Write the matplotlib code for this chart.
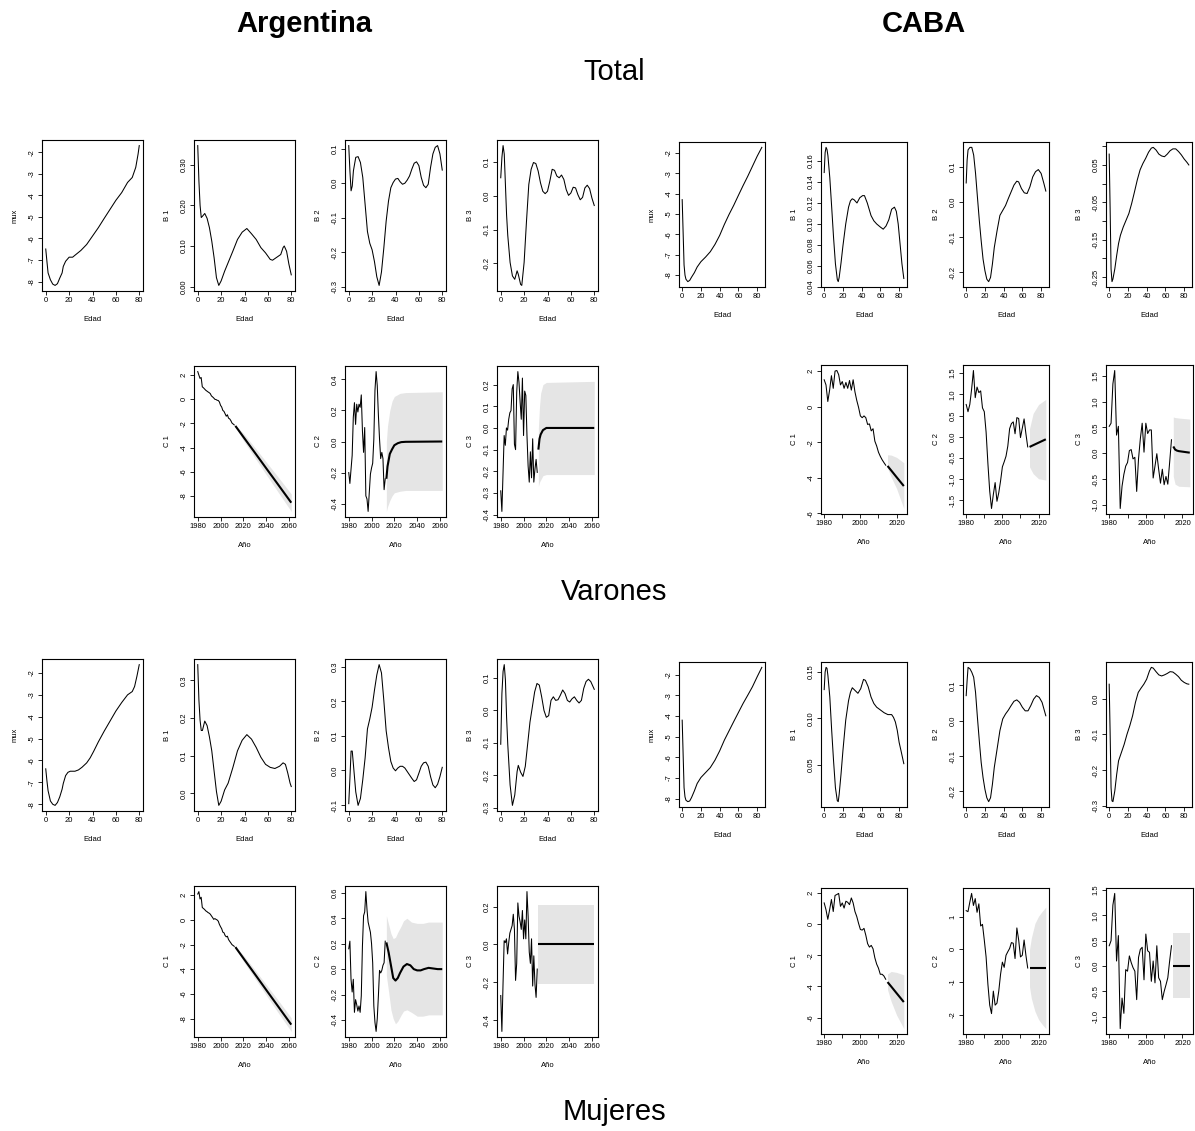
import matplotlib
matplotlib.use("Agg")
import matplotlib.pyplot as plt

plt.rcParams['font.family'] = ['Liberation Sans', 'DejaVu Sans']
plt.rcParams['axes.unicode_minus'] = False

# ------------------------------------------------------------------
# Argentina, total: age components
# ------------------------------------------------------------------
arg_tot_mx_age = [0, 1, 2, 4, 6, 8, 10, 12, 14, 15, 17, 20, 23, 25, 30, 35, 40, 45, 50, 55, 60, 65, 70, 74, 77, 79, 80]
arg_tot_mx = [-6.49, -7.06, -7.6, -7.92, -8.12, -8.18, -8.1, -7.84, -7.6, -7.3, -7.06, -6.87, -6.87, -6.78, -6.56,
              -6.28, -5.89, -5.5, -5.07, -4.65, -4.23, -3.87, -3.4, -3.17, -2.7, -2.08, -1.69]

arg_tot_b1_age = [0, 1, 2, 3, 4, 6, 8, 10, 12, 14, 16, 18, 20, 23, 26, 30, 34, 38, 42, 46, 50, 54, 58, 62, 64, 68,
                  71, 73, 74, 76, 78, 80]
arg_tot_b1 = [0.347, 0.26, 0.20, 0.17, 0.173, 0.18, 0.168, 0.145, 0.112, 0.071, 0.022, 0.003, 0.014, 0.038, 0.059,
              0.087, 0.116, 0.134, 0.143, 0.13, 0.116, 0.096, 0.083, 0.067, 0.065, 0.073, 0.079, 0.096, 0.10, 0.087,
              0.055, 0.029]

arg_tot_b2_age = [0, 1, 2, 3, 4] + list(range(6, 81, 2))
arg_tot_b2 = [0.109, 0.036, -0.022, -0.008, 0.036, 0.075, 0.077, 0.06, 0.017, -0.061, -0.14, -0.174, -0.193,
              -0.227, -0.271, -0.296, -0.257, -0.188, -0.11, -0.052, -0.013, 0.002, 0.012, 0.014, 0.004, -0.003,
              0.0, 0.009, 0.021, 0.041, 0.058, 0.062, 0.051, 0.017, -0.006, -0.013, -0.003, 0.046, 0.085, 0.104,
              0.109, 0.085, 0.038]

arg_tot_b3_age = [0, 1, 2, 3, 4, 5, 6, 8, 10, 12, 14, 15, 17, 18] + list(range(20, 81, 2))
arg_tot_b3 = [0.053, 0.113, 0.148, 0.123, 0.033, -0.057, -0.117, -0.197, -0.237, -0.247, -0.222, -0.232, -0.262,
              -0.265, -0.197, -0.077, 0.033, 0.078, 0.098, 0.095, 0.073, 0.038, 0.013, 0.006, 0.013, 0.043, 0.078,
              0.075, 0.058, 0.053, 0.061, 0.048, 0.018, 0.001, 0.008, 0.025, 0.023, 0.003, -0.012, -0.005, 0.023,
              0.031, 0.021, -0.007, -0.029]

# Argentina, total: time components (observed 1980-2012, forecast to 2062)
arg_years = list(range(1980, 2013))
arg_tot_c1 = [2.29, 2.0, 1.73, 1.8, 1.03, 0.95, 0.85, 0.75, 0.68, 0.61, 0.55, 0.47, 0.28, 0.2, 0.11, 0.0, -0.02,
              -0.08, -0.1, -0.22, -0.5, -0.64, -0.92, -1.0, -1.2, -1.4, -1.28, -1.56, -1.62, -1.76, -1.96, -2.04,
              -2.12]
arg_tot_c1_fyears = [2013, 2020, 2030, 2040, 2050, 2062]
arg_tot_c1_fmean = [-2.2, -3.11, -4.40, -5.70, -6.99, -8.55]
arg_tot_c1_lo = [-2.25, -3.41, -4.82, -6.22, -7.61, -9.27]
arg_tot_c1_hi = [-2.15, -2.81, -3.98, -5.18, -6.37, -7.83]

arg_tot_c2 = [-0.2, -0.27, -0.18, -0.09, 0.156, 0.25, 0.11, 0.24, 0.19, 0.24, 0.22, 0.30, 0.07, -0.07, 0.09,
              -0.35, -0.37, -0.45, -0.33, -0.21, -0.17, -0.14, 0.015, 0.33, 0.45, 0.36, 0.17, 0.015, -0.11, -0.07,
              -0.11, -0.31, -0.24]
arg_tot_c2_fyears = [2013, 2014, 2016, 2018, 2020, 2023, 2026, 2030, 2062]
arg_tot_c2_fmean = [-0.24, -0.16, -0.08, -0.05, -0.024, -0.011, -0.004, -0.002, 0.0]
arg_tot_c2_byears = [2013, 2014, 2016, 2018, 2020, 2025, 2030, 2062]
arg_tot_c2_lo = [-0.45, -0.42, -0.38, -0.35, -0.33, -0.32, -0.315, -0.315]
arg_tot_c2_hi = [0.0, 0.10, 0.20, 0.26, 0.29, 0.31, 0.315, 0.32]

arg_tot_c3 = [-0.29, -0.385, -0.21, -0.035, -0.08, 0.0, -0.01, 0.04, 0.07, 0.08, 0.18, 0.2, -0.075, -0.1, 0.165,
              0.26, 0.21, 0.12, 0.04, 0.23, -0.035, 0.17, 0.15, -0.035, -0.175, -0.25, -0.11, -0.23, -0.05, -0.25,
              -0.19, -0.145, -0.205]
arg_tot_c3_fyears = [2013, 2014, 2015, 2017, 2020, 2062]
arg_tot_c3_fmean = [-0.1, -0.05, -0.03, -0.01, 0.0, 0.0]
arg_tot_c3_lo = [-0.27, -0.25, -0.24, -0.22, -0.215, -0.215]
arg_tot_c3_hi = [0.0, 0.10, 0.16, 0.20, 0.21, 0.215]

# ------------------------------------------------------------------
# CABA, total
# ------------------------------------------------------------------
caba_tot_mx_age = [0, 1, 2, 3, 4, 6, 8, 10, 13, 16, 20, 25, 30, 35, 40, 45, 50, 55, 60, 65, 70, 75, 80, 85]
caba_tot_mx = [-4.29, -5.9, -7.5, -8.0, -8.2, -8.32, -8.26, -8.1, -7.88, -7.6, -7.34, -7.11, -6.85, -6.49, -6.05,
               -5.51, -5.02, -4.57, -4.08, -3.6, -3.14, -2.65, -2.16, -1.72]

caba_tot_b1_age = [0, 1, 2, 3, 4, 6, 8, 10, 12, 14, 15, 16, 18, 20, 23, 26, 28, 30, 32, 35, 38, 41, 43, 46, 50, 53,
                   56, 60, 63, 66, 69, 72, 75, 77, 79, 81, 83, 85]
caba_tot_b1 = [0.149, 0.168, 0.173, 0.171, 0.165, 0.144, 0.116, 0.087, 0.062, 0.047, 0.045, 0.049, 0.063, 0.079,
               0.1, 0.116, 0.122, 0.124, 0.123, 0.12, 0.125, 0.127, 0.127, 0.12, 0.108, 0.103, 0.1, 0.097, 0.095,
               0.098, 0.104, 0.114, 0.116, 0.112, 0.1, 0.081, 0.062, 0.048]

caba_tot_b2_age = [0, 1, 2, 4, 6, 8, 10, 12, 14, 16, 18, 20, 22, 24, 26, 28, 30, 33, 36, 39, 42, 45, 48, 51, 54, 56,
                   59, 62, 65, 68, 71, 74, 77, 80, 83, 85]
caba_tot_b2 = [0.054, 0.119, 0.148, 0.155, 0.155, 0.133, 0.081, 0.014, -0.052, -0.11, -0.162, -0.195, -0.219,
               -0.226, -0.214, -0.176, -0.129, -0.081, -0.038, -0.024, -0.01, 0.01, 0.029, 0.048, 0.059, 0.057,
               0.038, 0.026, 0.024, 0.043, 0.071, 0.086, 0.092, 0.081, 0.052, 0.031]

caba_tot_b3_age = [0, 1, 2, 3, 4, 6, 8, 10, 12, 15, 18, 21, 24, 27, 30, 33, 36, 39, 42, 45, 47, 50, 53, 56, 59, 62,
                   65, 68, 71, 74, 77, 80, 83, 85]
caba_tot_b3 = [0.079, -0.066, -0.228, -0.262, -0.255, -0.228, -0.192, -0.16, -0.138, -0.116, -0.098, -0.08,
               -0.053, -0.022, 0.01, 0.037, 0.054, 0.068, 0.084, 0.095, 0.097, 0.09, 0.079, 0.074, 0.072, 0.079,
               0.088, 0.093, 0.093, 0.086, 0.077, 0.066, 0.057, 0.05]

# CABA, total: time components (observed 1980-2014, forecast to 2024)
caba_years = list(range(1980, 2015))
caba_tot_c1 = [1.51, 1.22, 0.29, 0.93, 1.74, 1.03, 2.0, 2.03, 1.8, 1.22, 1.41, 1.03, 1.36, 1.03, 1.47, 0.93, 1.51,
               0.83, 0.35, -0.04, -0.52, -0.62, -0.52, -0.62, -1.0, -0.97, -1.36, -1.24, -1.94, -2.21, -2.56, -2.79,
               -2.98, -3.14, -3.29]
caba_tot_c1_fyears = [2015, 2017, 2020, 2024]
caba_tot_c1_fmean = [-3.33, -3.58, -3.96, -4.46]
caba_tot_c1_lo = [-3.45, -3.95, -4.6, -5.72]
caba_tot_c1_hi = [-2.7, -2.72, -2.85, -3.15]

caba_tot_c2 = [0.76, 0.59, 0.76, 1.12, 1.56, 0.92, 1.17, 1.04, 1.08, 0.68, 0.59, 0.11, -0.63, -1.28, -1.69, -1.36,
               -1.08, -1.52, -1.32, -1.04, -0.71, -0.59, -0.46, -0.22, 0.19, 0.31, 0.35, 0.07, 0.45, 0.43, -0.02,
               0.2, 0.42, 0.07, -0.24]
caba_tot_c2_fyears = [2015, 2018, 2021, 2024]
caba_tot_c2_fmean = [-0.24, -0.18, -0.12, -0.06]
caba_tot_c2_byears = [2015, 2017, 2020, 2024]
caba_tot_c2_lo = [-0.71, -0.87, -0.99, -1.02]
caba_tot_c2_hi = [0.19, 0.55, 0.76, 0.88]

caba_tot_c3 = [0.52, 0.58, 1.34, 1.6, 0.35, 0.52, -1.07, -0.64, -0.41, -0.25, -0.18, 0.05, 0.07, -0.11, -0.08,
               -0.74, -0.11, 0.28, 0.58, 0.02, 0.58, 0.38, 0.45, 0.45, -0.48, -0.25, -0.01, -0.31, -0.58, -0.31,
               -0.61, -0.45, -0.6, -0.18, 0.26]
caba_tot_c3_fyears = [2015, 2016, 2017, 2018, 2020, 2022, 2024]
caba_tot_c3_fmean = [0.13, 0.07, 0.05, 0.04, 0.03, 0.02, 0.01]
caba_tot_c3_byears = [2015, 2016, 2018, 2024]
caba_tot_c3_lo = [-0.45, -0.6, -0.64, -0.65]
caba_tot_c3_hi = [0.7, 0.69, 0.68, 0.66]

# ------------------------------------------------------------------
# Argentina, varones
# ------------------------------------------------------------------
arg_var_mx_age = [0, 1, 2, 4, 6, 8, 10, 12, 14, 15, 17, 19, 21, 25, 28, 31, 35, 38, 41, 45, 50, 55, 60, 65, 70, 74,
                  76, 78, 80]
arg_var_mx = [-6.38, -6.92, -7.38, -7.85, -8.0, -8.05, -7.92, -7.66, -7.31, -7.05, -6.69, -6.54, -6.49, -6.49,
              -6.43, -6.31, -6.11, -5.88, -5.58, -5.15, -4.66, -4.2, -3.74, -3.35, -3.0, -2.85, -2.62, -2.15, -1.62]

arg_var_b1_age = [0, 1, 2, 3, 4, 6, 8, 10, 12, 14, 16, 18, 20, 23, 26, 30, 34, 38, 42, 46, 50, 54, 58, 62, 66, 70,
                  73, 75, 77, 79, 80]
arg_var_b1 = [0.342, 0.248, 0.194, 0.167, 0.167, 0.192, 0.18, 0.15, 0.113, 0.059, 0.005, -0.032, -0.021, 0.009,
              0.027, 0.068, 0.113, 0.141, 0.156, 0.144, 0.122, 0.096, 0.077, 0.069, 0.066, 0.072, 0.081, 0.077,
              0.054, 0.027, 0.018]

arg_var_b2_age = [0, 1, 2, 3, 4] + list(range(6, 81, 2))
arg_var_b2 = [-0.096, -0.023, 0.056, 0.056, 0.017, -0.062, -0.101, -0.081, -0.027, 0.036, 0.12, 0.149, 0.183,
              0.232, 0.276, 0.306, 0.282, 0.203, 0.115, 0.066, 0.026, 0.007, -0.001, 0.007, 0.012, 0.012, 0.007,
              -0.003, -0.013, -0.023, -0.032, -0.027, -0.008, 0.012, 0.022, 0.024, 0.012, -0.018, -0.042, -0.05,
              -0.04, -0.018, 0.009]

arg_var_b3_age = [0, 1, 2, 3, 4, 5, 6, 8, 10, 12, 14, 15] + list(range(17, 80, 2)) + [80]
arg_var_b3 = [-0.104, 0.052, 0.12, 0.141, 0.094, -0.021, -0.104, -0.229, -0.292, -0.26, -0.188, -0.169, -0.19,
              -0.203, -0.172, -0.104, -0.036, 0.01, 0.057, 0.083, 0.078, 0.042, 0.0, -0.021, -0.016, 0.031, 0.042,
              0.031, 0.033, 0.047, 0.063, 0.052, 0.031, 0.026, 0.036, 0.042, 0.031, 0.023, 0.031, 0.068, 0.089,
              0.096, 0.089, 0.073, 0.065]

arg_var_c1 = [2.1, 2.3, 1.7, 1.84, 1.01, 0.93, 0.85, 0.74, 0.68, 0.6, 0.55, 0.47, 0.33, 0.2, 0.05, 0.11, 0.05, 0.0,
              -0.1, -0.36, -0.55, -0.71, -0.99, -1.04, -1.26, -1.37, -1.32, -1.59, -1.73, -1.86, -2.0, -2.07, -2.14]
arg_var_c1_fyears = [2013, 2020, 2030, 2040, 2050, 2062]
arg_var_c1_fmean = [-2.2, -3.1, -4.38, -5.67, -6.95, -8.49]
arg_var_c1_lo = [-2.25, -3.35, -4.73, -6.09, -7.45, -9.04]
arg_var_c1_hi = [-2.15, -2.85, -4.03, -5.25, -6.45, -7.94]

arg_var_c2 = [0.16, 0.22, -0.08, -0.18, -0.08, -0.34, -0.24, -0.28, -0.33, -0.29, -0.34, -0.21, 0.18, 0.42, 0.45,
              0.61, 0.47, 0.37, 0.33, 0.29, 0.2, 0.05, -0.29, -0.42, -0.49, -0.39, -0.21, -0.01, -0.03, -0.01, 0.03,
              0.05, 0.22]
arg_var_c2_fyears = [2013, 2015, 2017, 2019, 2021, 2023, 2025, 2028, 2031, 2034, 2037, 2040, 2043, 2046, 2050, 2054,
                     2058, 2062]
arg_var_c2_fmean = [0.21, 0.13, 0.03, -0.07, -0.09, -0.07, -0.03, 0.02, 0.04, 0.03, 0.0, -0.01, -0.01, 0.0, 0.01,
                    0.005, 0.0, 0.0]
arg_var_c2_byears = [2013, 2015, 2017, 2019, 2021, 2023, 2026, 2028, 2031, 2035, 2040, 2045, 2050, 2062]
arg_var_c2_lo = [-0.05, -0.18, -0.32, -0.39, -0.43, -0.41, -0.36, -0.33, -0.32, -0.34, -0.37, -0.37, -0.36, -0.36]
arg_var_c2_hi = [0.42, 0.35, 0.28, 0.24, 0.25, 0.29, 0.34, 0.38, 0.40, 0.37, 0.36, 0.36, 0.37, 0.37]

arg_var_c3 = [-0.27, -0.46, -0.21, 0.02, 0.01, 0.03, -0.05, 0.01, 0.06, 0.08, 0.1, 0.16, 0.08, -0.19, -0.1, 0.22,
              0.15, 0.12, 0.08, 0.18, 0.03, 0.13, 0.03, 0.28, 0.15, -0.04, -0.1, 0.03, -0.22, -0.06, -0.21, -0.28,
              -0.13]
arg_var_c3_fyears = [2013, 2062]
arg_var_c3_fmean = [0.0, 0.0]
arg_var_c3_lo = [-0.21, -0.21]
arg_var_c3_hi = [0.21, 0.21]

# ------------------------------------------------------------------
# CABA, varones
# ------------------------------------------------------------------
caba_var_mx_age = [0, 1, 2, 3, 4, 6, 8, 10, 13, 16, 20, 25, 30, 35, 40, 45, 50, 55, 60, 65, 70, 75, 80, 85]
caba_var_mx = [-4.2, -5.85, -7.47, -7.92, -8.08, -8.15, -8.12, -7.95, -7.63, -7.27, -6.98, -6.74, -6.5, -6.14,
               -5.69, -5.17, -4.72, -4.27, -3.83, -3.39, -2.99, -2.58, -2.1, -1.64]

caba_var_b1_age = [0, 1, 2, 3, 4, 6, 8, 10, 12, 14, 15, 16, 18, 20, 23, 26, 28, 30, 33, 36, 39, 42, 44, 47, 50, 53,
                   56, 60, 64, 68, 72, 74, 76, 78, 80, 82, 85]
caba_var_b1 = [0.131, 0.15, 0.155, 0.154, 0.146, 0.123, 0.087, 0.054, 0.025, 0.011, 0.01, 0.018, 0.04, 0.065,
               0.098, 0.119, 0.128, 0.133, 0.13, 0.127, 0.132, 0.142, 0.141, 0.134, 0.123, 0.116, 0.112, 0.109,
               0.106, 0.104, 0.104, 0.101, 0.096, 0.087, 0.074, 0.065, 0.051]

caba_var_b2_age = [0, 1, 2, 4, 6, 8, 10, 12, 14, 16, 18, 20, 22, 24, 26, 28, 30, 33, 36, 39, 42, 45, 48, 51, 54, 57,
                   60, 63, 66, 69, 72, 75, 78, 81, 83, 85]
caba_var_b2 = [0.071, 0.114, 0.151, 0.147, 0.137, 0.123, 0.08, 0.009, -0.057, -0.118, -0.161, -0.194, -0.218,
               -0.229, -0.218, -0.18, -0.132, -0.08, -0.028, 0.005, 0.019, 0.03, 0.043, 0.055, 0.059, 0.052, 0.038,
               0.028, 0.028, 0.043, 0.061, 0.071, 0.066, 0.052, 0.033, 0.014]

caba_var_b3_age = [0, 1, 2, 3, 4, 6, 8, 10, 13, 16, 19, 22, 25, 28, 31, 34, 37, 40, 43, 45, 47, 50, 53, 56, 59, 62,
                   65, 68, 71, 74, 77, 80, 83, 85]
caba_var_b3 = [0.04, -0.095, -0.249, -0.286, -0.288, -0.258, -0.212, -0.174, -0.151, -0.128, -0.1, -0.076, -0.048,
               -0.011, 0.017, 0.029, 0.04, 0.054, 0.077, 0.087, 0.085, 0.075, 0.066, 0.063, 0.066, 0.07, 0.075,
               0.074, 0.068, 0.061, 0.051, 0.045, 0.041, 0.04]

caba_var_c1 = [1.35, 0.91, 0.3, 0.91, 1.57, 0.8, 1.83, 1.89, 1.96, 1.13, 1.35, 1.02, 1.46, 1.39, 1.24, 1.67, 1.35,
               0.8, 0.48, 0.04, -0.35, -0.39, -0.28, -0.72, -1.26, -1.48, -1.37, -1.59, -2.17, -2.57, -2.83, -3.22,
               -3.22, -3.33, -3.54]
caba_var_c1_fyears = [2015, 2017, 2020, 2024]
caba_var_c1_fmean = [-3.72, -4.0, -4.43, -5.0]
caba_var_c1_lo = [-4.2, -4.96, -5.83, -6.7]
caba_var_c1_hi = [-3.2, -3.04, -3.1, -3.26]

caba_var_c2 = [1.19, 1.16, 1.45, 1.72, 1.35, 1.56, 1.14, 1.4, 0.72, 0.77, 0.29, -0.23, -1.07, -1.71, -1.97, -1.28,
               -1.71, -1.65, -1.28, -0.76, -0.39, -0.55, -0.18, -0.07, 0.03, 0.21, 0.19, -0.28, 0.66, 0.29, -0.23,
               -0.18, 0.29, -0.18, -0.57]
caba_var_c2_fyears = [2015, 2024]
caba_var_c2_fmean = [-0.57, -0.57]
caba_var_c2_byears = [2015, 2016, 2018, 2020, 2022, 2024]
caba_var_c2_lo = [-1.15, -1.5, -1.9, -2.15, -2.3, -2.43]
caba_var_c2_hi = [0.0, 0.35, 0.8, 1.02, 1.17, 1.3]

caba_var_c3 = [0.4, 0.5, 1.2, 1.43, 0.1, 0.6, -1.23, -0.63, -0.93, -0.07, -0.1, 0.2, 0.07, -0.03, -0.1, -0.66,
               0.17, 0.33, 0.37, -0.27, 0.63, 0.3, 0.27, -0.3, 0.1, -0.33, 0.4, -0.23, -0.3, -0.66, -0.5, -0.37,
               -0.23, 0.1, 0.4]
caba_var_c3_fyears = [2015, 2024]
caba_var_c3_fmean = [0.0, 0.0]
caba_var_c3_lo = [-0.63, -0.63]
caba_var_c3_hi = [0.65, 0.65]

# ------------------------------------------------------------------
# Figure
# ------------------------------------------------------------------
W, H = 1195, 1131
fig = plt.figure(figsize=(W / 100, H / 100), dpi=100)
fig.patch.set_facecolor('white')

TICK_FS = 5.5
LABEL_FS = 5.5
LINE_W = 0.75
FC_W = 1.5
BAND = '#e5e5e5'

ARG_COLS = [42, 194, 345, 497]
ARG_W = 101
CABA_COLS = [679, 821, 963, 1106]
CABA_W = 86


def new_axes(left, top, width, height):
    ax = fig.add_axes([left / W, 1 - (top + height) / H, width / W, height / H])
    for s in ax.spines.values():
        s.set_linewidth(0.8)
    ax.tick_params(direction='out', length=3, width=0.6, labelsize=TICK_FS, pad=1.5)
    ax.tick_params(axis='y', labelrotation=90)
    return ax


def finish(ax, width, height, xticks, xlabels, yticks, ylabels, xlabel, ylabel):
    ax.margins(0.04)
    ax.autoscale_view()
    xl, yl = ax.get_xlim(), ax.get_ylim()
    ax.set_xticks(xticks, xlabels)
    ax.set_yticks(yticks, ylabels)
    for lab in ax.get_yticklabels():
        lab.set_va('center')
    ax.set_xlim(xl)
    ax.set_ylim(yl)
    ax.set_xlabel(xlabel, fontsize=LABEL_FS)
    ax.set_ylabel(ylabel, fontsize=LABEL_FS)
    ax.xaxis.set_label_coords(0.5, -25 / height)
    ax.yaxis.set_label_coords(-23 / width, 0.5)


def fmt(vals, spec):
    return [spec.format(v) for v in vals]


def age_panel(left, top, width, height, ages, vals, ylabel, yticks, ylabels):
    ax = new_axes(left, top, width, height)
    ax.plot(ages, vals, color='black', lw=LINE_W)
    finish(ax, width, height, [0, 20, 40, 60, 80], ['0', '20', '40', '60', '80'],
           yticks, ylabels, 'Edad', ylabel)
    return ax


def time_panel(left, top, width, height, years, obs, fyears, fmean, byears, lo, hi,
               ylabel, yticks, ylabels, xticks, xlabels):
    ax = new_axes(left, top, width, height)
    ax.plot(years, obs, color='black', lw=LINE_W)
    ax.fill_between(byears, lo, hi, color=BAND, lw=0)
    ax.plot(fyears, fmean, color='black', lw=FC_W, solid_capstyle='butt')
    finish(ax, width, height, xticks, xlabels, yticks, ylabels, 'Año', ylabel)
    return ax


ARG_XT = [1980, 2000, 2020, 2040, 2060]
ARG_XL = [str(v) for v in ARG_XT]
CABA_XT = [1980, 1990, 2000, 2010, 2020]
CABA_XL = ['1980', '', '2000', '', '2020']

# ---------------- Argentina, total ----------------
r1_top, r1_h = 140, 151
r2_top, r2_h = 366, 151
age_panel(ARG_COLS[0], r1_top, ARG_W, r1_h, arg_tot_mx_age, arg_tot_mx, 'mux',
          [-8, -7, -6, -5, -4, -3, -2], fmt([-8, -7, -6, -5, -4, -3, -2], '{:d}'))
age_panel(ARG_COLS[1], r1_top, ARG_W, r1_h, arg_tot_b1_age, arg_tot_b1, 'B 1',
          [0.0, 0.1, 0.2, 0.3], fmt([0.0, 0.1, 0.2, 0.3], '{:.2f}'))
age_panel(ARG_COLS[2], r1_top, ARG_W, r1_h, arg_tot_b2_age, arg_tot_b2, 'B 2',
          [-0.3, -0.2, -0.1, 0.0, 0.1], fmt([-0.3, -0.2, -0.1, 0.0, 0.1], '{:.1f}'))
age_panel(ARG_COLS[3], r1_top, ARG_W, r1_h, arg_tot_b3_age, arg_tot_b3, 'B 3',
          [-0.2, -0.1, 0.0, 0.1], fmt([-0.2, -0.1, 0.0, 0.1], '{:.1f}'))

time_panel(ARG_COLS[1], r2_top, ARG_W, r2_h, arg_years, arg_tot_c1,
           arg_tot_c1_fyears, arg_tot_c1_fmean, arg_tot_c1_fyears, arg_tot_c1_lo, arg_tot_c1_hi,
           'C 1', [-8, -6, -4, -2, 0, 2], fmt([-8, -6, -4, -2, 0, 2], '{:d}'), ARG_XT, ARG_XL)
time_panel(ARG_COLS[2], r2_top, ARG_W, r2_h, arg_years, arg_tot_c2,
           arg_tot_c2_fyears, arg_tot_c2_fmean, arg_tot_c2_byears, arg_tot_c2_lo, arg_tot_c2_hi,
           'C 2', [-0.4, -0.2, 0.0, 0.2, 0.4], fmt([-0.4, -0.2, 0.0, 0.2, 0.4], '{:.1f}'), ARG_XT, ARG_XL)
time_panel(ARG_COLS[3], r2_top, ARG_W, r2_h, arg_years, arg_tot_c3,
           arg_tot_c3_fyears, arg_tot_c3_fmean, arg_tot_c3_fyears, arg_tot_c3_lo, arg_tot_c3_hi,
           'C 3', [-0.4, -0.3, -0.2, -0.1, 0.0, 0.1, 0.2],
           fmt([-0.4, -0.3, -0.2, -0.1, 0.0, 0.1, 0.2], '{:.1f}'), ARG_XT, ARG_XL)

# ---------------- CABA, total ----------------
c1_top, c1_h = 142, 145
c2_top, c2_h = 365, 149
age_panel(CABA_COLS[0], c1_top, CABA_W, c1_h, caba_tot_mx_age, caba_tot_mx, 'mux',
          [-8, -7, -6, -5, -4, -3, -2], fmt([-8, -7, -6, -5, -4, -3, -2], '{:d}'))
age_panel(CABA_COLS[1], c1_top, CABA_W, c1_h, caba_tot_b1_age, caba_tot_b1, 'B 1',
          [0.04, 0.06, 0.08, 0.10, 0.12, 0.14, 0.16],
          fmt([0.04, 0.06, 0.08, 0.10, 0.12, 0.14, 0.16], '{:.2f}'))
age_panel(CABA_COLS[2], c1_top, CABA_W, c1_h, caba_tot_b2_age, caba_tot_b2, 'B 2',
          [-0.2, -0.1, 0.0, 0.1], fmt([-0.2, -0.1, 0.0, 0.1], '{:.1f}'))
age_panel(CABA_COLS[3], c1_top, CABA_W, c1_h, caba_tot_b3_age, caba_tot_b3, 'B 3',
          [-0.25, -0.20, -0.15, -0.10, -0.05, 0.0, 0.05, 0.10],
          ['-0.25', '', '-0.15', '', '-0.05', '', '0.05', ''])

time_panel(CABA_COLS[1], c2_top, CABA_W, c2_h, caba_years, caba_tot_c1,
           caba_tot_c1_fyears, caba_tot_c1_fmean, caba_tot_c1_fyears, caba_tot_c1_lo, caba_tot_c1_hi,
           'C 1', [-6, -4, -2, 0, 2], fmt([-6, -4, -2, 0, 2], '{:d}'), CABA_XT, CABA_XL)
time_panel(CABA_COLS[2], c2_top, CABA_W, c2_h, caba_years, caba_tot_c2,
           caba_tot_c2_fyears, caba_tot_c2_fmean, caba_tot_c2_byears, caba_tot_c2_lo, caba_tot_c2_hi,
           'C 2', [-1.5, -1.0, -0.5, 0.0, 0.5, 1.0, 1.5],
           fmt([-1.5, -1.0, -0.5, 0.0, 0.5, 1.0, 1.5], '{:.1f}'), CABA_XT, CABA_XL)
time_panel(CABA_COLS[3], c2_top, CABA_W + 1, c2_h, caba_years, caba_tot_c3,
           caba_tot_c3_fyears, caba_tot_c3_fmean, caba_tot_c3_byears, caba_tot_c3_lo, caba_tot_c3_hi,
           'C 3', [-1.0, -0.5, 0.0, 0.5, 1.0, 1.5],
           fmt([-1.0, -0.5, 0.0, 0.5, 1.0, 1.5], '{:.1f}'), CABA_XT, CABA_XL)

# ---------------- Argentina, varones ----------------
r3_top, r3_h = 659, 152
r4_top, r4_h = 886, 151
age_panel(ARG_COLS[0], r3_top, ARG_W, r3_h, arg_var_mx_age, arg_var_mx, 'mux',
          [-8, -7, -6, -5, -4, -3, -2], fmt([-8, -7, -6, -5, -4, -3, -2], '{:d}'))
age_panel(ARG_COLS[1], r3_top, ARG_W, r3_h, arg_var_b1_age, arg_var_b1, 'B 1',
          [0.0, 0.1, 0.2, 0.3], fmt([0.0, 0.1, 0.2, 0.3], '{:.1f}'))
age_panel(ARG_COLS[2], r3_top, ARG_W, r3_h, arg_var_b2_age, arg_var_b2, 'B 2',
          [-0.1, 0.0, 0.1, 0.2, 0.3], fmt([-0.1, 0.0, 0.1, 0.2, 0.3], '{:.1f}'))
age_panel(ARG_COLS[3], r3_top, ARG_W, r3_h, arg_var_b3_age, arg_var_b3, 'B 3',
          [-0.3, -0.2, -0.1, 0.0, 0.1], fmt([-0.3, -0.2, -0.1, 0.0, 0.1], '{:.1f}'))

time_panel(ARG_COLS[1], r4_top, ARG_W, r4_h, arg_years, arg_var_c1,
           arg_var_c1_fyears, arg_var_c1_fmean, arg_var_c1_fyears, arg_var_c1_lo, arg_var_c1_hi,
           'C 1', [-8, -6, -4, -2, 0, 2], fmt([-8, -6, -4, -2, 0, 2], '{:d}'), ARG_XT, ARG_XL)
time_panel(ARG_COLS[2], r4_top, ARG_W, r4_h, arg_years, arg_var_c2,
           arg_var_c2_fyears, arg_var_c2_fmean, arg_var_c2_byears, arg_var_c2_lo, arg_var_c2_hi,
           'C 2', [-0.4, -0.2, 0.0, 0.2, 0.4, 0.6], fmt([-0.4, -0.2, 0.0, 0.2, 0.4, 0.6], '{:.1f}'),
           ARG_XT, ARG_XL)
time_panel(ARG_COLS[3], r4_top, ARG_W, r4_h, arg_years, arg_var_c3,
           arg_var_c3_fyears, arg_var_c3_fmean, arg_var_c3_fyears, arg_var_c3_lo, arg_var_c3_hi,
           'C 3', [-0.4, -0.2, 0.0, 0.2], fmt([-0.4, -0.2, 0.0, 0.2], '{:.1f}'), ARG_XT, ARG_XL)

# ---------------- CABA, varones ----------------
c3_top, c3_h = 662, 145
c4_top, c4_h = 888, 146
age_panel(CABA_COLS[0], c3_top, CABA_W, c3_h, caba_var_mx_age, caba_var_mx, 'mux',
          [-8, -7, -6, -5, -4, -3, -2], fmt([-8, -7, -6, -5, -4, -3, -2], '{:d}'))
age_panel(CABA_COLS[1], c3_top, CABA_W, c3_h, caba_var_b1_age, caba_var_b1, 'B 1',
          [0.05, 0.10, 0.15], fmt([0.05, 0.10, 0.15], '{:.2f}'))
age_panel(CABA_COLS[2], c3_top, CABA_W, c3_h, caba_var_b2_age, caba_var_b2, 'B 2',
          [-0.2, -0.1, 0.0, 0.1], fmt([-0.2, -0.1, 0.0, 0.1], '{:.1f}'))
age_panel(CABA_COLS[3], c3_top, CABA_W, c3_h, caba_var_b3_age, caba_var_b3, 'B 3',
          [-0.3, -0.2, -0.1, 0.0], fmt([-0.3, -0.2, -0.1, 0.0], '{:.1f}'))

time_panel(CABA_COLS[1], c4_top, CABA_W, c4_h, caba_years, caba_var_c1,
           caba_var_c1_fyears, caba_var_c1_fmean, caba_var_c1_fyears, caba_var_c1_lo, caba_var_c1_hi,
           'C 1', [-6, -4, -2, 0, 2], fmt([-6, -4, -2, 0, 2], '{:d}'), CABA_XT, CABA_XL)
time_panel(CABA_COLS[2], c4_top, CABA_W, c4_h, caba_years, caba_var_c2,
           caba_var_c2_fyears, caba_var_c2_fmean, caba_var_c2_byears, caba_var_c2_lo, caba_var_c2_hi,
           'C 2', [-2, -1, 0, 1], fmt([-2, -1, 0, 1], '{:d}'), CABA_XT, CABA_XL)
time_panel(CABA_COLS[3], c4_top, CABA_W + 1, c4_h, caba_years, caba_var_c3,
           caba_var_c3_fyears, caba_var_c3_fmean, caba_var_c3_fyears, caba_var_c3_lo, caba_var_c3_hi,
           'C 3', [-1.0, -0.5, 0.0, 0.5, 1.0, 1.5],
           fmt([-1.0, -0.5, 0.0, 0.5, 1.0, 1.5], '{:.1f}'), CABA_XT, CABA_XL)

# ---------------- headings ----------------
def fig_text(x, y, s, **kw):
    fig.text(x / W, 1 - y / H, s, ha='center', va='center', **kw)

fig_text(304, 24, 'Argentina', fontsize=21, fontweight='bold')
fig_text(924, 24, 'CABA', fontsize=21, fontweight='bold')
fig_text(614, 72, 'Total', fontsize=21)
fig_text(614, 592, 'Varones', fontsize=21)
fig_text(614, 1112, 'Mujeres', fontsize=21)

fig.savefig('out.png', dpi=100, facecolor='white')
